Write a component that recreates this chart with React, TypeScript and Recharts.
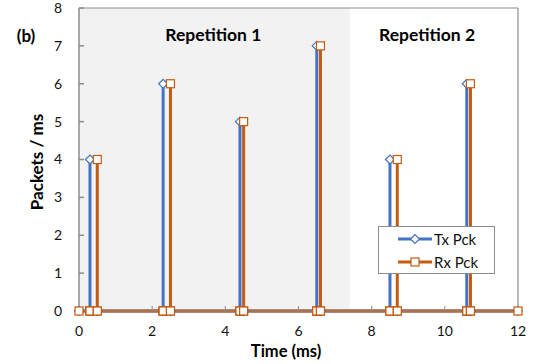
import React from "react"
import {
  LineChart,
  Line,
  XAxis,
  YAxis,
  ReferenceArea,
  ReferenceLine,
  Customized,
} from "recharts"

// time axis (ms) shared by both series; each spike is zero -> peak -> zero
const time = [
  0,
  0.3, 0.3, 0.3, 0.5, 0.5, 0.5,
  2.3, 2.3, 2.3, 2.5, 2.5, 2.5,
  4.4, 4.4, 4.4, 4.5, 4.5, 4.5,
  6.5, 6.5, 6.5, 6.6, 6.6, 6.6,
  8.5, 8.5, 8.5, 8.7, 8.7, 8.7,
  10.6, 10.6, 10.6, 10.7, 10.7, 10.7,
  12,
]
const txPck = [
  0,
  0, 4, 0, 0, 0, 0,
  0, 6, 0, 0, 0, 0,
  0, 5, 0, 0, 0, 0,
  0, 7, 0, 0, 0, 0,
  0, 4, 0, 0, 0, 0,
  0, 6, 0, 0, 0, 0,
  0,
]
const rxPck = [
  0,
  0, 0, 0, 0, 4, 0,
  0, 0, 0, 0, 6, 0,
  0, 0, 0, 0, 5, 0,
  0, 0, 0, 0, 7, 0,
  0, 0, 0, 0, 4, 0,
  0, 0, 0, 0, 6, 0,
  0,
]
const xTicks = [0, 2, 4, 6, 8, 10, 12]
const yTicks = [0, 1, 2, 3, 4, 5, 6, 7, 8]
const rep1End = 7.4

const data = time.map((t, i) => ({ t, tx: txPck[i], rx: rxPck[i] }))

const BLUE = "#4472C4"
const ORANGE = "#C55A11"
const FONT = "Lato, 'Noto Sans', sans-serif"

const Diamond = ({ cx, cy }: any) => (
  <path
    d={`M${cx - 4.5},${cy} L${cx},${cy - 4.5} L${cx + 4.5},${cy} L${cx},${cy + 4.5} Z`}
    fill="#fff"
    stroke={BLUE}
    strokeWidth={1.2}
  />
)

const Square = ({ cx, cy }: any) => (
  <rect x={cx - 4} y={cy - 4} width={8} height={8} fill="#fff" stroke={ORANGE} strokeWidth={1.2} />
)

// "Repetition 1" sits inside the shaded area, so it goes on the area's own label
const Rep1Label = ({ viewBox }: any) => (
  <text
    x={viewBox.x + viewBox.width / 2 - 1}
    y={41}
    fontFamily={FONT}
    fontWeight="bold"
    fontSize={17.5}
    textAnchor="middle"
    fill="#000"
  >
    Repetition 1
  </text>
)

const Annotations = () => (
  <g fontFamily={FONT} fontWeight="bold" fill="#000">
    <text x={26} y={42} fontSize={17} textAnchor="middle">(b)</text>
    <text x={427} y={41} fontSize={17.5} textAnchor="middle">Repetition 2</text>
    <text x={286} y={357} fontSize={16.5} textAnchor="middle">Time (ms)</text>
    <text
      x={43}
      y={162}
      fontSize={17}
      textAnchor="middle"
      transform="rotate(-90 43 162)"
    >
      Packets / ms
    </text>
  </g>
)

const LegendBox = () => (
  <div
    style={{
      position: "absolute",
      left: 378,
      top: 226,
      width: 117,
      height: 48,
      border: "1px solid #8c8c8c",
      background: "#fff",
      fontFamily: FONT,
      fontSize: 15,
      color: "#111",
      boxSizing: "border-box",
    }}
  >
    {[
      { name: "Tx Pck", color: BLUE, Mark: Diamond },
      { name: "Rx Pck", color: ORANGE, Mark: Square },
    ].map((item, i) => (
      <div key={item.name} style={{ position: "absolute", left: 18, top: 2 + i * 23, height: 20, display: "flex", alignItems: "center" }}>
        <svg width={36} height={20}>
          <line x1={1} y1={10} x2={35} y2={10} stroke={item.color} strokeWidth={3} />
          <item.Mark cx={18} cy={10} />
        </svg>
        <span style={{ marginLeft: 1 }}>{item.name}</span>
      </div>
    ))}
  </div>
)

export default function App() {
  return (
    <div style={{ position: "absolute", left: 0, top: 0, width: 543, height: 364, background: "#fff" }}>
      <LineChart
        width={543}
        height={364}
        data={data}
        margin={{ top: 8, right: 25, left: 0, bottom: 0 }}
      >
        <ReferenceArea
          x1={0}
          x2={rep1End}
          y1={0}
          y2={8}
          fill="#f2f2f2"
          fillOpacity={1}
          stroke="none"
          label={<Rep1Label />}
        />
        <ReferenceLine y={8} stroke="#8c8c8c" strokeWidth={1.2} />
        <ReferenceLine x={12} stroke="#8c8c8c" strokeWidth={1.2} />
        <XAxis
          type="number"
          dataKey="t"
          domain={[0, 12]}
          ticks={xTicks}
          height={53}
          tickSize={-5}
          tickMargin={20}
          stroke="#8c8c8c"
          tick={{ fontSize: 14, fill: "#111", fontFamily: FONT }}
        />
        <YAxis
          type="number"
          domain={[0, 8]}
          ticks={yTicks}
          width={79}
          tickSize={-5}
          tickMargin={22}
          stroke="#8c8c8c"
          strokeWidth={1.5}
          tick={{ fontSize: 14, fill: "#111", fontFamily: FONT }}
        />
        <Line
          type="linear"
          dataKey="tx"
          stroke={BLUE}
          strokeWidth={3}
          dot={(p: any) => <Diamond key={`tx-${p.index}`} cx={p.cx} cy={p.cy} />}
          isAnimationActive={false}
        />
        <Line
          type="linear"
          dataKey="rx"
          stroke={ORANGE}
          strokeWidth={3}
          dot={(p: any) => <Square key={`rx-${p.index}`} cx={p.cx} cy={p.cy} />}
          isAnimationActive={false}
        />
        <Customized component={Annotations} />
      </LineChart>
      <LegendBox />
    </div>
  )
}
